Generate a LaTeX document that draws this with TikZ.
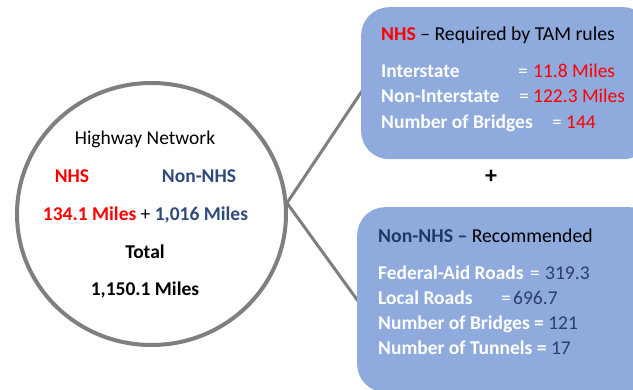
\documentclass[tikz,border=0pt]{standalone}
\usepackage{fontspec}
\setmainfont{Carlito}
\usetikzlibrary{shapes.geometric}
\definecolor{boxblue}{HTML}{8FAADC}
\definecolor{ringgray}{HTML}{7F7F7F}
\definecolor{nhsred}{HTML}{FF0000}
\definecolor{navy}{HTML}{2F4A7D}
\definecolor{deepnavy}{HTML}{1F3864}
\definecolor{numnavy}{HTML}{2B3F6C}
\tikzset{
  circtxt/.style={anchor=base, inner sep=0pt, font=\fontsize{19.5}{22}\selectfont},
  boxtitle/.style={anchor=base west, inner sep=0pt, font=\fontsize{19.7}{22}\selectfont},
  item/.style={anchor=base west, inner sep=0pt, font=\fontsize{19.5}{22}\selectfont\bfseries, text=white},
  eqs/.style={anchor=base west, inner sep=0pt, font=\fontsize{19.5}{22}\selectfont, text=white},
  val/.style={anchor=base west, inner sep=0pt, font=\fontsize{19.5}{22}\selectfont},
  panel/.style={draw=none, fill=boxblue, rounded corners=28pt, inner sep=0pt},
  link/.style={draw=ringgray, line width=3pt}
}
\begin{document}
\begin{tikzpicture}[x=1pt,y=-1pt]
\useasboundingbox (0,0) rectangle (633,389);
\clip (0,0) rectangle (633,389);
\fill[white] (0,0) rectangle (633,389);
% circle
\node[ellipse, draw=ringgray, line width=4pt, minimum width=269pt, minimum height=262pt, inner sep=0pt] (net) at (151.5,214) {};
\coordinate (hub) at (287,203);
\coordinate (nhsin) at (362,91);
\coordinate (nonin) at (358,301);
\draw[link] (hub) -- (nhsin);
\draw[link] (hub) -- (nonin);
% panels
\node[panel, minimum width=290pt, minimum height=152pt, anchor=north west] (nhs) at (361,7) {};
\node[panel, minimum width=300pt, minimum height=185pt, anchor=north west] (non) at (357,207) {};
% circle text
\node[circtxt] (hw) at (145,144) {Highway Network};
\node[circtxt, font=\fontsize{19.5}{22}\selectfont\bfseries, text=nhsred] (c1) at (72,182) {NHS};
\node[circtxt, font=\fontsize{19.5}{22}\selectfont\bfseries, text=navy] (c2) at (199,182) {Non-NHS};
\node[circtxt] (c3) at (145.5,220) {\textbf{\color{nhsred}134.1 Miles} + \textbf{\color{navy}1,016 Miles}};
\node[circtxt, font=\fontsize{19.5}{22}\selectfont\bfseries] (c4) at (145,258) {Total};
\node[circtxt, font=\fontsize{19.5}{22}\selectfont\bfseries] (c5) at (145,295) {1,150.1 Miles};
% plus
\node[inner sep=0pt, font=\fontsize{24}{26}\selectfont\bfseries] (plus) at (491,177) {+};
% top panel text
\node[boxtitle] (t0) at (381,40) {\textbf{\color{nhsred}NHS} -- Required by TAM rules};
\node[item] (t1) at (381,77) {Interstate};
\node[eqs] (t1e) at (518,77) {=};
\node[val, text=nhsred] (t1v) at (533,77) {11.8 Miles};
\node[item] (t2) at (381,102) {Non-Interstate};
\node[eqs] (t2e) at (519,102) {=};
\node[val, text=nhsred] (t2v) at (533,102) {122.3 Miles};
\node[item] (t3) at (381,128) {Number of Bridges};
\node[eqs] (t3e) at (552,128) {=};
\node[val, text=nhsred] (t3v) at (566,128) {144};
% bottom panel text
\node[boxtitle] (b0) at (378,242) {\textbf{\color{deepnavy}Non-NHS --} Recommended};
\node[item] (b1) at (378,279) {Federal-Aid Roads};
\node[eqs] (b1e) at (530,279) {=};
\node[val, text=numnavy] (b1v) at (545,279) {319.3};
\node[item] (b2) at (378,304) {Local Roads};
\node[eqs] (b2e) at (501,304) {=};
\node[val, text=numnavy] (b2v) at (513,304) {696.7};
\node[item] (b3) at (378,329) {Number of Bridges = \mdseries\color{numnavy}121};
\node[item] (b4) at (378,354) {Number of Tunnels = \mdseries\color{numnavy}17};
\end{tikzpicture}
\end{document}
